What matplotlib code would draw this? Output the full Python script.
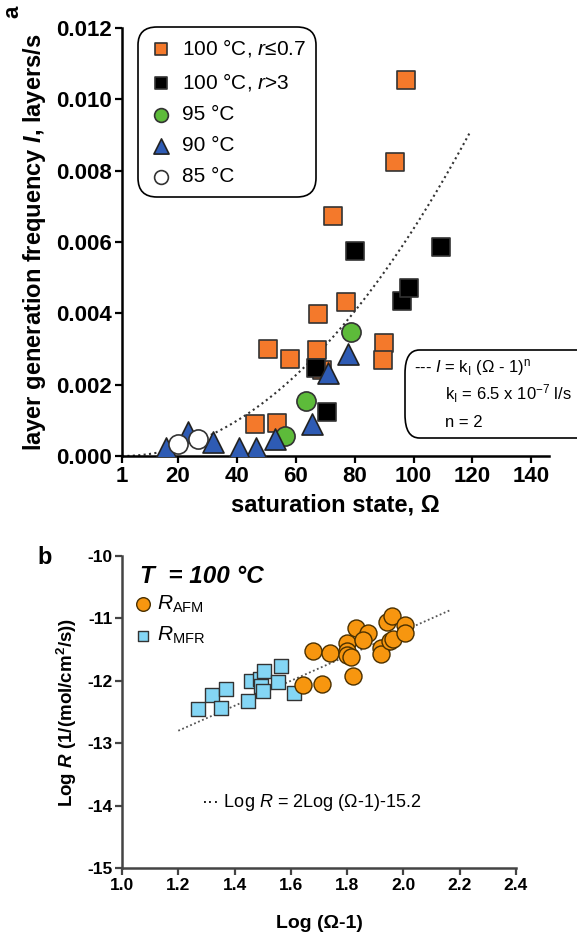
import numpy as np
import matplotlib
matplotlib.use('Agg')
import matplotlib.pyplot as plt
from matplotlib.patches import FancyBboxPatch

plt.rcParams['font.family'] = ['Liberation Sans', 'DejaVu Sans']
plt.rcParams['axes.unicode_minus'] = False
plt.rcParams['mathtext.fontset'] = 'custom'
plt.rcParams['mathtext.rm'] = 'Liberation Sans'
plt.rcParams['mathtext.it'] = 'Liberation Sans:italic'
plt.rcParams['mathtext.bf'] = 'Liberation Sans:bold'
plt.rcParams['mathtext.bfit'] = 'Liberation Sans:bold:italic'

# ---- panel a data: saturation state vs layer generation frequency
sq100_low_x = [50.5, 58, 67.4, 67.2, 68.8, 77, 89.8, 89.5, 46.3, 53.8, 72.6, 93.6, 97.5]
sq100_low_y = [0.0030, 0.00272, 0.00398, 0.00298, 0.00242, 0.00432, 0.00317, 0.0027,
               0.00089, 0.00092, 0.00672, 0.00825, 0.01053]
sq100_high_x = [80.2, 96.1, 98.4, 66.8, 70.5, 109.4]
sq100_high_y = [0.00576, 0.00435, 0.00471, 0.00248, 0.00123, 0.00586]
c95_x = [78.7, 63.4, 56.3]
c95_y = [0.00349, 0.00154, 0.00057]
t90_x = [77.9, 70.9, 65.4, 53.1, 46.6, 40.9, 31.8, 23.3, 15.9]
t90_y = [0.00287, 0.00232, 0.00089, 0.00048, 0.00022, 0.00022, 0.0004, 0.00067, 0.00022]
c85_x = [19.9, 26.7]
c85_y = [0.00033, 0.00047]
KI = 6.5e-7
N_EXP = 2
fit_a_range = (1, 119)

# ---- panel b data: Log(omega-1) vs Log R
mfr_x = [1.269, 1.32, 1.35, 1.37, 1.448, 1.457, 1.489, 1.493, 1.502, 1.505, 1.556, 1.564, 1.61]
mfr_y = [-12.45, -12.23, -12.43, -12.13, -12.32, -12.0, -11.97, -12.09, -12.17, -11.85,
         -12.02, -11.77, -12.19]
afm_x = [1.642, 1.71, 1.68, 1.74, 1.82, 1.80, 1.80, 1.80, 1.814, 1.832, 1.874, 1.858,
         1.921, 1.919, 1.951, 1.963, 1.942, 1.96, 2.007, 2.005]
afm_y = [-12.06, -12.05, -11.52, -11.55, -11.92, -11.39, -11.52, -11.59, -11.62, -11.16,
         -11.23, -11.35, -11.48, -11.57, -11.36, -11.33, -11.06, -10.96, -11.11, -11.23]
SLOPE_B = 2
INTERCEPT_B = -15.2
fit_b_range = (1.2, 2.165)

W, H = 577, 938
fig = plt.figure(figsize=(W / 100, H / 100), dpi=100)


def px_axes(left, top, right, bottom):
    return fig.add_axes([left / W, 1 - bottom / H, (right - left) / W, (bottom - top) / H])


def style_axes(ax, size, color='black'):
    for s in ['top', 'right']:
        ax.spines[s].set_visible(False)
    for s in ['left', 'bottom']:
        ax.spines[s].set_linewidth(1.8)
        ax.spines[s].set_color(color)
    ax.tick_params(width=1.6, length=5, color=color, labelsize=size, pad=2)
    for lab in ax.get_xticklabels() + ax.get_yticklabels():
        lab.set_fontweight('bold')


# ================= panel a =================
ax1 = px_axes(122, 28, 549, 456)
xf = np.linspace(fit_a_range[0], fit_a_range[1], 200)
ax1.plot(xf, KI * (xf - 1) ** N_EXP, ls=(0, (1, 1.6)), color='#333333', lw=1.5, zorder=1)

ax1.scatter(sq100_low_x, sq100_low_y, marker='s', s=150, facecolor='#F4792B',
            edgecolor='#333333', lw=1.2, zorder=3, label=r'100 °C, $\mathit{r}$≤0.7')
ax1.scatter(sq100_high_x, sq100_high_y, marker='s', s=150, facecolor='black',
            edgecolor='#333333', lw=1.2, zorder=3, label=r'100 °C, $\mathit{r}$>3')
ax1.scatter(c95_x, c95_y, marker='o', s=190, facecolor='#5DBB3A',
            edgecolor='#333333', lw=1.2, zorder=3, label='95 °C')
ax1.scatter(t90_x, t90_y, marker='^', s=230, facecolor='#2E5BB4',
            edgecolor='#222222', lw=1.2, zorder=3, label='90 °C')
ax1.scatter(c85_x, c85_y, marker='o', s=190, facecolor='white',
            edgecolor='#333333', lw=1.2, zorder=3, label='85 °C')

ax1.set_xlim(1, 146)
ax1.set_ylim(0, 0.012)
ax1.set_xticks([1, 20, 40, 60, 80, 100, 120, 140])
ax1.set_yticks(np.arange(0, 0.0121, 0.002))
ax1.set_yticklabels(['%.3f' % v for v in np.arange(0, 0.0121, 0.002)])
style_axes(ax1, 16)
ax1.set_xlabel('saturation state, Ω', fontsize=17, fontweight='bold', labelpad=5)
ax1.set_ylabel(r'layer generation frequency $\mathbfit{I}$, layers/s', fontsize=17,
               fontweight='bold', labelpad=6)

leg = ax1.legend(loc='upper left', bbox_to_anchor=(0.02, 1.02), fontsize=15,
                 frameon=True, fancybox=True, edgecolor='black', framealpha=1,
                 labelspacing=0.58, handletextpad=0.4, borderpad=0.35,
                 scatterpoints=1, markerscale=0.72, handlelength=1.2)
leg.get_frame().set_linewidth(1.2)
leg.get_frame().set_boxstyle('round,pad=0.15,rounding_size=0.9')

fig.text(13 / W, 1 - 12 / H, 'a', fontsize=16, fontweight='bold', rotation=90,
         ha='center', va='center')

# formula box
box = FancyBboxPatch((405 / W, 1 - 438 / H), 200 / W, 88 / H,
                     boxstyle='round,pad=0,rounding_size=0.025',
                     transform=fig.transFigure, facecolor='white', edgecolor='black',
                     lw=1.2, clip_on=False, zorder=5)
fig.patches.append(box)
fig.text(414 / W, 1 - 367 / H, r'--- $\mathit{I}$ = k$_\mathrm{I}$ (Ω - 1)$^\mathrm{n}$',
         fontsize=12, va='center', zorder=6)
fig.text(445 / W, 1 - 394 / H, r'k$_\mathrm{I}$ = 6.5 x 10$^{-7}$ l/s',
         fontsize=12, va='center', zorder=6)
fig.text(445 / W, 1 - 422 / H, 'n = 2', fontsize=12, va='center', zorder=6)

# ================= panel b =================
ax2 = px_axes(122, 556, 516, 868)
xb = np.linspace(fit_b_range[0], fit_b_range[1], 50)
ax2.plot(xb, SLOPE_B * xb + INTERCEPT_B, ls=(0, (1, 1.4)), color='#555555', lw=1.3, zorder=1)
ax2.scatter(mfr_x, mfr_y, marker='s', s=95, facecolor='#84D6F5', edgecolor='#333333',
            lw=1.0, zorder=3, label=r'$\mathit{R}_\mathrm{MFR}$')
ax2.scatter(afm_x, afm_y, marker='o', s=150, facecolor='#F7960F', edgecolor='#4a3000',
            lw=1.0, zorder=3, label=r'$\mathit{R}_\mathrm{AFM}$')
ax2.set_xlim(1.0, 2.4)
ax2.set_ylim(-15, -10)
ax2.set_xticks(np.arange(1.0, 2.41, 0.2))
ax2.set_xticklabels(['%.1f' % v for v in np.arange(1.0, 2.41, 0.2)])
ax2.set_yticks([-15, -14, -13, -12, -11, -10])
style_axes(ax2, 12.5, color='#444444')
ax2.set_xlabel('Log (Ω-1)', fontsize=14, fontweight='bold', labelpad=16)
ax2.set_ylabel(r'Log $\mathbfit{R}$ (1/(mol/cm$^\mathbf{2}$/s))', fontsize=13.5,
               fontweight='bold', labelpad=6)

h, l = ax2.get_legend_handles_labels()
leg2 = ax2.legend(h[::-1], l[::-1], loc='upper left', bbox_to_anchor=(-0.025, 0.94),
                  fontsize=15, frameon=False, handletextpad=0.05, labelspacing=0.5,
                  markerscale=0.8, handlelength=1.2)

ax2.text(0.045, 0.935, 'T  = 100 °C', transform=ax2.transAxes, fontsize=17.5,
         fontweight='bold', fontstyle='italic', va='center')
ax2.text(0.2, 0.21, r'··· Log $\mathit{R}$ = 2Log (Ω-1)-15.2', transform=ax2.transAxes,
         fontsize=13, va='center')
fig.text(45 / W, 1 - 557 / H, 'b', fontsize=17, fontweight='bold', ha='center',
         va='center')

fig.savefig('out.png', dpi=100)
